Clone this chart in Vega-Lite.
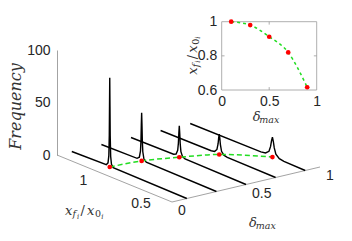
{
  "$schema": "https://vega.github.io/schema/vega-lite/v6.json",
  "width": 352,
  "height": 241,
  "autosize": {"type": "none"},
  "padding": 0,
  "background": "white",
  "config": {"view": {"stroke": null}},
  "datasets": {
    "curves": [
      {"d": 0.1, "xf": 1.33, "f": 0}, {"d": 0.1, "xf": 1.03, "f": 0.8}, {"d": 0.1, "xf": 1.015, "f": 3.3}, {"d": 0.1, "xf": 1.008, "f": 10.5}, {"d": 0.1, "xf": 1.004, "f": 30}, {"d": 0.1, "xf": 1.002, "f": 58}, {"d": 0.1, "xf": 1.0, "f": 85}, {"d": 0.1, "xf": 0.998, "f": 58}, {"d": 0.1, "xf": 0.996, "f": 30}, {"d": 0.1, "xf": 0.992, "f": 10.5}, {"d": 0.1, "xf": 0.985, "f": 3.3}, {"d": 0.1, "xf": 0.97, "f": 0.8}, {"d": 0.1, "xf": 0.33, "f": 0},
      {"d": 0.3, "xf": 1.33, "f": 0}, {"d": 0.3, "xf": 1.02, "f": 0.7}, {"d": 0.3, "xf": 1.0, "f": 2.7}, {"d": 0.3, "xf": 0.99, "f": 9.2}, {"d": 0.3, "xf": 0.986, "f": 18.9}, {"d": 0.3, "xf": 0.983, "f": 33.8}, {"d": 0.3, "xf": 0.98, "f": 46}, {"d": 0.3, "xf": 0.977, "f": 33.8}, {"d": 0.3, "xf": 0.974, "f": 18.9}, {"d": 0.3, "xf": 0.97, "f": 9.2}, {"d": 0.3, "xf": 0.96, "f": 2.7}, {"d": 0.3, "xf": 0.94, "f": 0.7}, {"d": 0.3, "xf": 0.33, "f": 0},
      {"d": 0.5, "xf": 1.33, "f": 0}, {"d": 0.5, "xf": 0.96, "f": 0.6}, {"d": 0.5, "xf": 0.938, "f": 1.8}, {"d": 0.5, "xf": 0.924, "f": 6}, {"d": 0.5, "xf": 0.918, "f": 13}, {"d": 0.5, "xf": 0.914, "f": 22.6}, {"d": 0.5, "xf": 0.91, "f": 30}, {"d": 0.5, "xf": 0.906, "f": 22.6}, {"d": 0.5, "xf": 0.902, "f": 13}, {"d": 0.5, "xf": 0.896, "f": 6}, {"d": 0.5, "xf": 0.882, "f": 1.8}, {"d": 0.5, "xf": 0.86, "f": 0.6}, {"d": 0.5, "xf": 0.33, "f": 0},
      {"d": 0.7, "xf": 1.33, "f": 0}, {"d": 0.7, "xf": 0.89, "f": 0.4}, {"d": 0.7, "xf": 0.86, "f": 1.15}, {"d": 0.7, "xf": 0.84, "f": 3.9}, {"d": 0.7, "xf": 0.83, "f": 9.75}, {"d": 0.7, "xf": 0.825, "f": 15.6}, {"d": 0.7, "xf": 0.82, "f": 19.5}, {"d": 0.7, "xf": 0.815, "f": 15.6}, {"d": 0.7, "xf": 0.81, "f": 9.75}, {"d": 0.7, "xf": 0.8, "f": 3.9}, {"d": 0.7, "xf": 0.78, "f": 1.15}, {"d": 0.7, "xf": 0.75, "f": 0.4}, {"d": 0.7, "xf": 0.33, "f": 0},
      {"d": 0.9, "xf": 1.33, "f": 0}, {"d": 0.9, "xf": 0.715, "f": 0.5}, {"d": 0.9, "xf": 0.675, "f": 1.25}, {"d": 0.9, "xf": 0.645, "f": 4.2}, {"d": 0.9, "xf": 0.631, "f": 9.5}, {"d": 0.9, "xf": 0.623, "f": 15.2}, {"d": 0.9, "xf": 0.615, "f": 19}, {"d": 0.9, "xf": 0.607, "f": 15.2}, {"d": 0.9, "xf": 0.599, "f": 9.5}, {"d": 0.9, "xf": 0.585, "f": 4.2}, {"d": 0.9, "xf": 0.555, "f": 1.25}, {"d": 0.9, "xf": 0.515, "f": 0.5}, {"d": 0.9, "xf": 0.33, "f": 0}
    ],
    "peaks": [
      {"d": 0.1, "xf": 1.0}, {"d": 0.3, "xf": 0.98}, {"d": 0.5, "xf": 0.91}, {"d": 0.7, "xf": 0.82}, {"d": 0.9, "xf": 0.615}
    ]
  },
  "layer": [
    {
      "encoding": {
        "x": {"field": "px", "type": "quantitative", "scale": {"domain": [0, 352], "range": [0, 352], "nice": false, "zero": false}, "axis": null},
        "y": {"field": "py", "type": "quantitative", "scale": {"domain": [0, 241], "range": [0, 241], "nice": false, "zero": false}, "axis": null}
      },
      "layer": [
        {
          "data": {"values": [
            {"d": 0, "xf": 1.33, "d2": 0, "xf2": 0.33},
            {"d": 0, "xf": 0.33, "d2": 1, "xf2": 0.33}
          ]},
          "transform": [
            {"calculate": "57 + 148*datum.d + 115*(1.33 - datum.xf)", "as": "px"},
            {"calculate": "155 - 35*datum.d + 47*(1.33 - datum.xf)", "as": "py"},
            {"calculate": "57 + 148*datum.d2 + 115*(1.33 - datum.xf2)", "as": "px2"},
            {"calculate": "155 - 35*datum.d2 + 47*(1.33 - datum.xf2)", "as": "py2"}
          ],
          "mark": {"type": "rule", "color": "#8c8c8c", "strokeWidth": 0.8},
          "encoding": {"x2": {"field": "px2"}, "y2": {"field": "py2"}}
        },
        {
          "data": {"name": "curves"},
          "transform": [
            {"calculate": "57 + 148*datum.d + 115*(1.33 - datum.xf)", "as": "px"},
            {"calculate": "155 - 35*datum.d + 47*(1.33 - datum.xf) - 1.05*datum.f", "as": "py"}
          ],
          "mark": {"type": "line", "color": "#000000", "strokeWidth": 1.4},
          "encoding": {
            "detail": {"field": "d", "type": "nominal"},
            "order": {"field": "xf", "sort": "descending"}
          }
        },
        {
          "data": {"name": "peaks"},
          "transform": [
            {"calculate": "57 + 148*datum.d + 115*(1.33 - datum.xf)", "as": "px"},
            {"calculate": "155 - 35*datum.d + 47*(1.33 - datum.xf)", "as": "py"}
          ],
          "mark": {"type": "line", "color": "#22dd22", "strokeWidth": 1.5, "strokeDash": [5, 3], "interpolate": "monotone"},
          "encoding": {"order": {"field": "d"}}
        },
        {
          "data": {"name": "peaks"},
          "transform": [
            {"calculate": "57 + 148*datum.d + 115*(1.33 - datum.xf)", "as": "px"},
            {"calculate": "155 - 35*datum.d + 47*(1.33 - datum.xf)", "as": "py"}
          ],
          "mark": {"type": "point", "filled": true, "color": "#ff0000", "size": 22, "opacity": 1}
        },
        {
          "data": {"values": [{"lab": "1", "d": 0, "xf": 1}, {"lab": "0.5", "d": 0, "xf": 0.5}]},
          "transform": [
            {"calculate": "57 + 148*datum.d + 115*(1.33 - datum.xf)", "as": "px"},
            {"calculate": "155 - 35*datum.d + 47*(1.33 - datum.xf)", "as": "py"}
          ],
          "mark": {"type": "text", "align": "center", "baseline": "middle", "dx": -11.5, "dy": 10, "font": "Liberation Sans", "fontSize": 14, "color": "#262626"},
          "encoding": {"text": {"field": "lab"}}
        },
        {
          "data": {"values": [{"lab": "0", "d": 0, "xf": 0.33}, {"lab": "0.5", "d": 0.5, "xf": 0.33}, {"lab": "1", "d": 1, "xf": 0.33}]},
          "transform": [
            {"calculate": "57 + 148*datum.d + 115*(1.33 - datum.xf)", "as": "px"},
            {"calculate": "155 - 35*datum.d + 47*(1.33 - datum.xf)", "as": "py"}
          ],
          "mark": {"type": "text", "align": "left", "baseline": "middle", "dx": 6, "dy": 9, "font": "Liberation Sans", "fontSize": 14, "color": "#262626"},
          "encoding": {"text": {"field": "lab"}}
        },
        {
          "data": {"values": [{"d": 0, "xf": 0.8}]},
          "transform": [
            {"calculate": "57 + 148*datum.d + 115*(1.33 - datum.xf)", "as": "px"},
            {"calculate": "155 - 35*datum.d + 47*(1.33 - datum.xf)", "as": "py"}
          ],
          "layer": [
            {"mark": {"type": "text", "text": "x", "align": "left", "baseline": "alphabetic", "dx": -53, "dy": 35.4, "font": "DejaVu Serif", "fontStyle": "italic", "fontSize": 13, "color": "#333333"}},
            {"mark": {"type": "text", "text": "f", "align": "left", "baseline": "alphabetic", "dx": -45.5, "dy": 37.5, "font": "DejaVu Serif", "fontStyle": "italic", "fontSize": 9.5, "color": "#333333"}},
            {"mark": {"type": "text", "text": "i", "align": "left", "baseline": "alphabetic", "dx": -41, "dy": 39, "font": "DejaVu Serif", "fontStyle": "italic", "fontSize": 7, "color": "#333333"}},
            {"mark": {"type": "text", "text": "/", "align": "left", "baseline": "alphabetic", "dx": -37.5, "dy": 35.4, "font": "DejaVu Serif", "fontSize": 13, "color": "#333333"}},
            {"mark": {"type": "text", "text": "x", "align": "left", "baseline": "alphabetic", "dx": -31, "dy": 35.4, "font": "DejaVu Serif", "fontStyle": "italic", "fontSize": 13, "color": "#333333"}},
            {"mark": {"type": "text", "text": "0", "align": "left", "baseline": "alphabetic", "dx": -23, "dy": 37.5, "font": "DejaVu Serif", "fontSize": 9.5, "color": "#333333"}},
            {"mark": {"type": "text", "text": "i", "align": "left", "baseline": "alphabetic", "dx": -16.8, "dy": 39, "font": "DejaVu Serif", "fontStyle": "italic", "fontSize": 7, "color": "#333333"}}
          ]
        },
        {
          "data": {"values": [{"d": 0.6, "xf": 0.33}]},
          "transform": [
            {"calculate": "57 + 148*datum.d + 115*(1.33 - datum.xf)", "as": "px"},
            {"calculate": "155 - 35*datum.d + 47*(1.33 - datum.xf)", "as": "py"}
          ],
          "layer": [
            {"mark": {"type": "text", "text": "δ", "align": "left", "baseline": "alphabetic", "dx": -11.8, "dy": 45.7, "font": "DejaVu Serif", "fontStyle": "italic", "fontSize": 13, "color": "#333333"}},
            {"mark": {"type": "text", "text": "max", "align": "left", "baseline": "alphabetic", "dx": -5, "dy": 48, "font": "DejaVu Serif", "fontStyle": "italic", "fontSize": 9.5, "color": "#333333"}}
          ]
        }
      ]
    },
    {
      "data": {"values": [{"freq": 0}, {"freq": 100}]},
      "mark": {"type": "point", "opacity": 0},
      "encoding": {
        "y": {
          "field": "freq", "type": "quantitative",
          "scale": {"domain": [0, 100], "range": [155, 50], "nice": false, "zero": false},
          "axis": {
            "orient": "left", "offset": -57, "values": [0, 50, 100], "ticks": false, "grid": false,
            "labelPadding": 7, "labelFont": "Liberation Sans", "labelFontSize": 14, "labelColor": "#262626",
            "domainColor": "#8c8c8c", "domainWidth": 0.8,
            "title": "Frequency", "titleFont": "DejaVu Serif", "titleFontStyle": "italic", "titleFontWeight": "normal",
            "titleFontSize": 16, "titleColor": "#333333", "titleX": -42, "titleY": 106, "titleAngle": 270,
            "titleAlign": "center", "titleBaseline": "middle"
          }
        }
      }
    },
    {
      "encoding": {
        "x": {"field": "d", "type": "quantitative", "scale": {"domain": [0, 1], "range": [221.7, 316.7], "nice": false, "zero": false},
          "axis": {"orient": "bottom", "offset": -151, "values": [0, 0.5, 1], "labelExpr": "'' + datum.value", "ticks": false, "domain": false, "grid": false, "title": null, "labelFlush": false, "labelPadding": 4, "labelFont": "Liberation Sans", "labelFontSize": 14, "labelColor": "#262626"}},
        "y": {"field": "r", "type": "quantitative", "scale": {"domain": [0.6, 1], "range": [90, 21.7], "nice": false, "zero": false},
          "axis": {"orient": "left", "offset": -221.7, "values": [0.6, 0.8, 1], "labelExpr": "'' + datum.value", "ticks": false, "domain": false, "grid": false, "title": null, "labelFlush": false, "labelPadding": 5, "labelFont": "Liberation Sans", "labelFontSize": 14, "labelColor": "#262626"}}
      },
      "layer": [
        {
          "data": {"values": [{"d": 0, "r": 0.6, "d2": 1, "r2": 1}]},
          "mark": {"type": "rect", "filled": false, "stroke": "#9a9a9a", "strokeWidth": 0.8},
          "encoding": {"x2": {"field": "d2"}, "y2": {"field": "r2"}}
        },
        {
          "data": {"values": [
            {"d": 0.5, "r": 0.6, "d2": 0.5, "r2": 0.617},
            {"d": 0.5, "r": 1, "d2": 0.5, "r2": 0.983},
            {"d": 0, "r": 0.8, "d2": 0.03, "r2": 0.8},
            {"d": 1, "r": 0.8, "d2": 0.97, "r2": 0.8}
          ]},
          "mark": {"type": "rule", "color": "#9a9a9a", "strokeWidth": 0.8},
          "encoding": {"x2": {"field": "d2"}, "y2": {"field": "r2"}}
        },
        {
          "data": {"values": [
            {"d": 0.1, "r": 1.0}, {"d": 0.3, "r": 0.98}, {"d": 0.5, "r": 0.912}, {"d": 0.7, "r": 0.82}, {"d": 0.9, "r": 0.616}
          ]},
          "layer": [
            {"mark": {"type": "line", "color": "#22dd22", "strokeWidth": 1.5, "strokeDash": [3, 3], "interpolate": "monotone"}},
            {"mark": {"type": "point", "filled": true, "color": "#ff0000", "size": 22, "opacity": 1}}
          ]
        },
        {
          "data": {"values": [{"d": 0.5, "r": 0.6}]},
          "layer": [
            {"mark": {"type": "text", "text": "δ", "align": "left", "baseline": "alphabetic", "dx": -16.5, "dy": 31, "font": "DejaVu Serif", "fontStyle": "italic", "fontSize": 13, "color": "#333333"}},
            {"mark": {"type": "text", "text": "max", "align": "left", "baseline": "alphabetic", "dx": -9.9, "dy": 33.3, "font": "DejaVu Serif", "fontStyle": "italic", "fontSize": 9.5, "color": "#333333"}}
          ]
        },
        {
          "data": {"values": [{"d": 0, "r": 0.8}]},
          "layer": [
            {"mark": {"type": "text", "text": "x", "angle": 270, "align": "left", "baseline": "alphabetic", "dx": -19, "dy": -25, "font": "DejaVu Serif", "fontStyle": "italic", "fontSize": 13, "color": "#333333"}},
            {"mark": {"type": "text", "text": "f", "angle": 270, "align": "left", "baseline": "alphabetic", "dx": -11.5, "dy": -22.9, "font": "DejaVu Serif", "fontStyle": "italic", "fontSize": 9.5, "color": "#333333"}},
            {"mark": {"type": "text", "text": "i", "angle": 270, "align": "left", "baseline": "alphabetic", "dx": -7, "dy": -21.4, "font": "DejaVu Serif", "fontStyle": "italic", "fontSize": 7, "color": "#333333"}},
            {"mark": {"type": "text", "text": "/", "angle": 270, "align": "left", "baseline": "alphabetic", "dx": -3.5, "dy": -25, "font": "DejaVu Serif", "fontSize": 13, "color": "#333333"}},
            {"mark": {"type": "text", "text": "x", "angle": 270, "align": "left", "baseline": "alphabetic", "dx": 3, "dy": -25, "font": "DejaVu Serif", "fontStyle": "italic", "fontSize": 13, "color": "#333333"}},
            {"mark": {"type": "text", "text": "0", "angle": 270, "align": "left", "baseline": "alphabetic", "dx": 11, "dy": -22.9, "font": "DejaVu Serif", "fontSize": 9.5, "color": "#333333"}},
            {"mark": {"type": "text", "text": "i", "angle": 270, "align": "left", "baseline": "alphabetic", "dx": 17.2, "dy": -21.4, "font": "DejaVu Serif", "fontStyle": "italic", "fontSize": 7, "color": "#333333"}}
          ]
        }
      ]
    }
  ],
  "resolve": {"scale": {"x": "independent", "y": "independent"}, "axis": {"x": "independent", "y": "independent"}}
}
